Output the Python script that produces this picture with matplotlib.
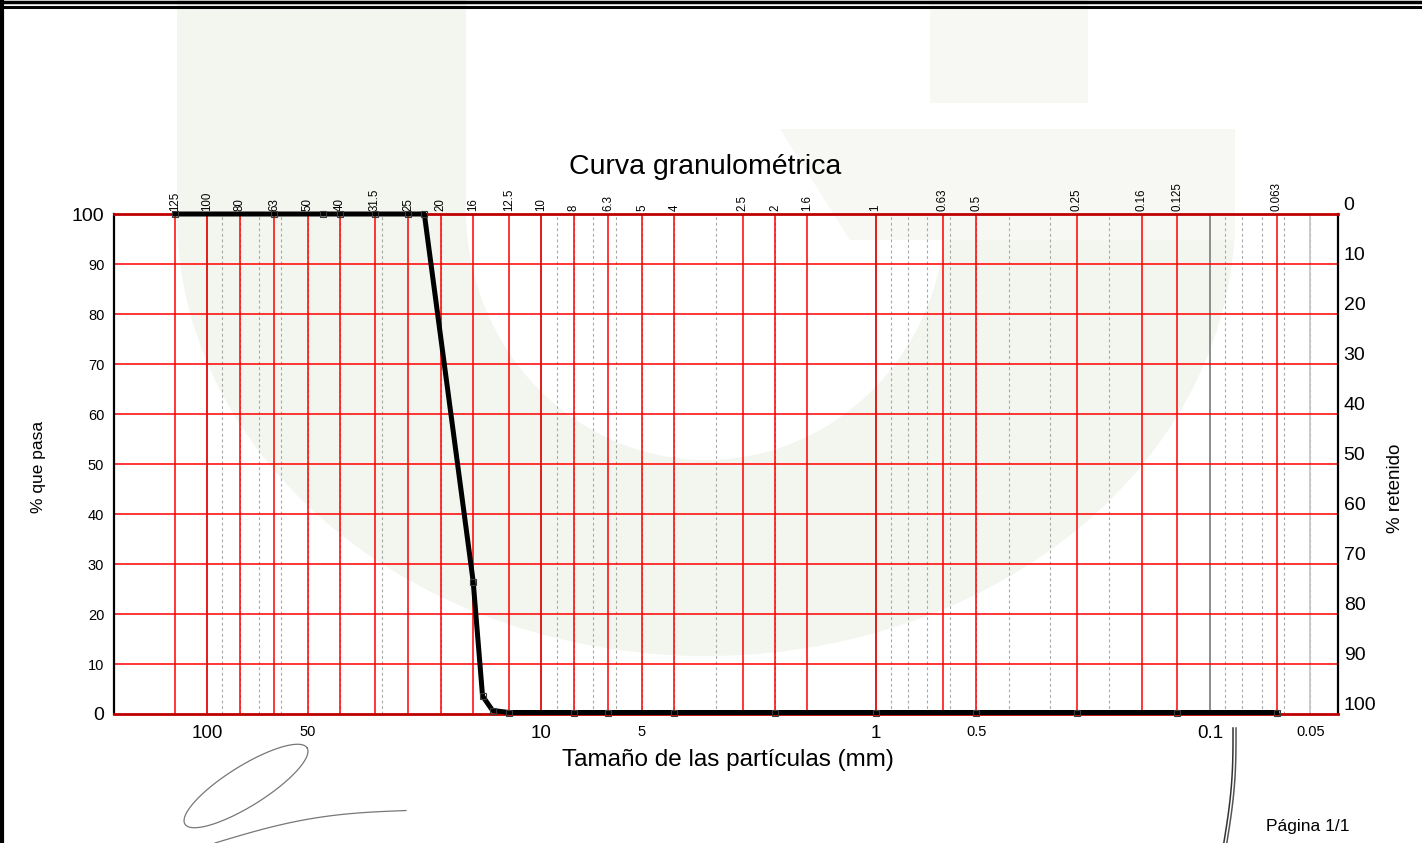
import numpy as np
import matplotlib
matplotlib.use("Agg")
import matplotlib.pyplot as plt
from matplotlib.path import Path
from matplotlib.patches import PathPatch
from matplotlib.lines import Line2D
from matplotlib.transforms import Affine2D, offset_copy
from matplotlib.ticker import NullLocator

plt.rcParams['font.family'] = ['Liberation Sans', 'DejaVu Sans']

# ---------------- data ----------------
sieve_sizes = [125, 63, 45, 40, 31.5, 25, 22.4, 16, 15, 14, 12.5, 8, 6.3, 4, 2, 1, 0.5, 0.25, 0.125, 0.063]
percent_passing = [100, 100, 100, 100, 100, 100, 100, 26.5, 3.6, 0.7, 0.3, 0.3, 0.3, 0.3, 0.3, 0.3, 0.3, 0.3, 0.3, 0.3]

top_sieves = [125, 100, 80, 63, 50, 40, 31.5, 25, 20, 16, 12.5, 10, 8, 6.3, 5, 4, 2.5, 2, 1.6, 1,
              0.63, 0.5, 0.25, 0.16, 0.125, 0.063]
top_labels = ["125", "100", "80", "63", "50", "40", "31.5", "25", "20", "16", "12.5", "10", "8", "6.3",
              "5", "4", "2.5", "2", "1.6", "1", "0.63", "0.5", "0.25", "0.16", "0.125", "0.063"]
bottom_ticks = [100, 50, 10, 5, 1, 0.5, 0.1, 0.05]
bottom_labels = ["100", "50", "10", "5", "1", "0.5", "0.1", "0.05"]
bottom_big = [True, False, True, False, True, False, True, False]
left_ticks = [0, 10, 20, 30, 40, 50, 60, 70, 80, 90, 100]
right_labels = ["0", "10", "20", "30", "40", "50", "60", "70", "80", "90", "100"]

W, H = 1422, 843
fig = plt.figure(figsize=(W / 100, H / 100), dpi=100)
fig.patch.set_facecolor('white')

# pixel -> figure transform (y downward)
pix = Affine2D().scale(1 / W, -1 / H).translate(0, 1) + fig.transFigure

# ---------------- watermark (faint "G") ----------------
def ellipse_arc(cx, cy, rx, ry, t0, t1, n=120):
    t = np.radians(np.linspace(t0, t1, n))
    return np.column_stack([cx + rx * np.cos(t), cy + ry * np.sin(t)])

wm1 = '#f3f5ef'
wm2 = '#f7f8f3'
outer = np.vstack([[[177, -20]], [[177, 216]], ellipse_arc(706, 216, 529, 440, 180, 0), [[1235, 129]]])
inner = np.vstack([[[1100, 240]], [[960, 240]], ellipse_arc(706, 210, 240, 250, 5, 180), [[466, -20]]])
ring = np.vstack([outer, inner, outer[:1]])
fig.add_artist(PathPatch(Path(ring), transform=pix, facecolor=wm1, edgecolor='none', zorder=-5))
# crossbar and terminal
bar = Path([(780, 129), (1235, 129), (1235, 240), (850, 240), (780, 129)])
fig.add_artist(PathPatch(bar, transform=pix, facecolor=wm2, edgecolor='none', zorder=-5))
term = Path([(930, -10), (1088, -10), (1088, 103), (930, 103), (930, -10)])
fig.add_artist(PathPatch(term, transform=pix, facecolor=wm2, edgecolor='none', zorder=-5))

# ---------------- axes ----------------
ax_left, ax_right, ax_top, ax_bottom = 114, 1337.7, 214, 714
ax = fig.add_axes([ax_left / W, (H - ax_bottom) / H, (ax_right - ax_left) / W, (ax_bottom - ax_top) / H])
ax.set_facecolor('none')
ax.set_xscale('log')
ax.set_xlim(190, 0.04145)
ax.set_ylim(0, 100)

# minor dotted grid
for k in range(-2, 3):
    for m in range(2, 10):
        v = m * 10.0 ** k
        if 0.0415 < v < 190:
            ax.axvline(v, color='#a8a8a8', lw=0.8, ls=(0, (2.5, 2.5)), zorder=1)
for v in [100, 10, 1, 0.1]:
    ax.axvline(v, color='#8c8c8c', lw=1.4, zorder=1.5)
ax.axvline(0.05, color='#c4c4c4', lw=1.2, zorder=1.5)

for v in top_sieves:
    ax.axvline(v, color='#ff0000', lw=1.1, zorder=2)
for y in range(10, 100, 10):
    ax.axhline(y, color='#ff0000', lw=1.1, zorder=2)

for s in ['left', 'right']:
    ax.spines[s].set_color('black')
    ax.spines[s].set_linewidth(1.6)
for s in ['top', 'bottom']:
    ax.spines[s].set_color('#c00000')
    ax.spines[s].set_linewidth(2)

# curve
ax.plot(sieve_sizes, percent_passing, color='black', lw=3.6, marker='s', ms=4.5,
        mfc='none', mec='#3a3a3a', mew=0.8, clip_on=False, zorder=6)

# ticks
ax.xaxis.set_minor_locator(NullLocator())
ax.set_xticks(bottom_ticks)
ax.set_xticklabels(bottom_labels)
for lab, big in zip(ax.get_xticklabels(), bottom_big):
    lab.set_fontsize(13.5 if big else 10.5)
ax.tick_params(axis='x', length=0, pad=8)
ax.set_yticks(left_ticks)
ax.set_yticklabels([str(t) for t in left_ticks])
for lab, t in zip(ax.get_yticklabels(), left_ticks):
    lab.set_fontsize(14 if t in (0, 100) else 10.5)
ax.tick_params(axis='y', length=0, pad=7)

# top rotated sieve labels
ttop = offset_copy(ax.get_xaxis_transform(), fig=fig, x=0, y=3, units='dots')
for v, lab in zip(top_sieves, top_labels):
    ax.text(v, 1, lab, transform=ttop, rotation=90, ha='center', va='bottom', fontsize=8.3)

# right labels (% retenido)
tright = offset_copy(ax.get_yaxis_transform(), fig=fig, x=6, y=0, units='dots')
for t, lab in zip(left_ticks, right_labels):
    ax.text(1, 100 - t, lab, transform=tright, ha='left', va='bottom', fontsize=14)

# texts
fig.text(705 / W, 1 - 167 / H, 'Curva granulométrica', ha='center', va='center', fontsize=20.5)
fig.text(728 / W, 1 - 760 / H, 'Tamaño de las partículas (mm)', ha='center', va='center', fontsize=17.5)
fig.text(38 / W, 1 - 467 / H, '% que pasa', ha='center', va='center', rotation=90, fontsize=12.5)
fig.text(1395 / W, 1 - 488 / H, '% retenido', ha='center', va='center', rotation=90, fontsize=13.5)
fig.text(1308 / W, 1 - 827 / H, 'Página 1/1', ha='center', va='center', fontsize=12.5)

# page frame
fig.add_artist(Line2D([2, 2], [0, H], transform=pix, color='black', lw=3, zorder=10))
fig.add_artist(Line2D([0, W], [1.5, 1.5], transform=pix, color='black', lw=2.5, zorder=10))
fig.add_artist(Line2D([0, W], [7, 7], transform=pix, color='black', lw=2.2, zorder=10))

# signatures (approximate scribbles)
t = np.linspace(0, 2 * np.pi, 200)
ang = np.radians(-32)
ex, ey = 72 * np.cos(t), 20 * np.sin(t)
sx = 246 + ex * np.cos(ang) - ey * np.sin(ang)
sy = 786 + ex * np.sin(ang) + ey * np.cos(ang)
fig.add_artist(Line2D(sx, sy, transform=pix, color='#777777', lw=0.9, zorder=10))
xs = np.linspace(215, 406, 50)
ys = 843 - (xs - 215) * 0.17 - 8 * np.sin((xs - 215) / 191 * np.pi)
fig.add_artist(Line2D(xs, ys, transform=pix, color='#777777', lw=0.9, zorder=10))
yy = np.linspace(728, 843, 60)
for dx, c in [(0, '#333333'), (3, '#555555')]:
    xx = 1233 + dx + 3 * np.sin((yy - 728) / 115 * np.pi) - (yy - 728) * 0.08
    fig.add_artist(Line2D(xx, yy, transform=pix, color=c, lw=1.1, zorder=10))

fig.savefig('out.png', dpi=100)
